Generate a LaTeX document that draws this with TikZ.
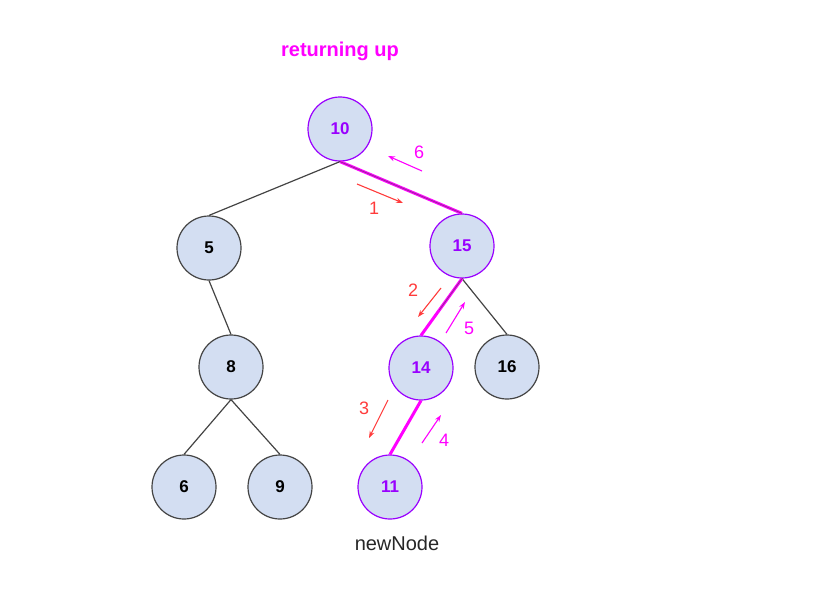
\documentclass[tikz,border=0pt]{standalone}
\usepackage{fontspec}
\setmainfont{Liberation Sans}
\usetikzlibrary{arrows.meta,calc}
\definecolor{nodefill}{HTML}{D3DEF2}
\definecolor{purp}{HTML}{9900FF}
\definecolor{mag}{HTML}{FF00FF}
\definecolor{redc}{HTML}{FF3B3B}
\definecolor{edgegray}{HTML}{444444}
\tikzset{
  tnode/.style={circle, draw=edgegray, line width=1.2pt, fill=nodefill, minimum size=64pt, inner sep=0pt, font=\fontsize{17}{19}\selectfont\bfseries, text=black},
  pnode/.style={tnode, draw=purp, text=purp},
  edge/.style={draw=edgegray, line width=1.2pt},
  medge/.style={draw=mag, line width=3pt},
  core/.style={draw=black!70, line width=0.8pt, opacity=0.6},
  redarr/.style={draw=redc, line width=1.1pt, -{Stealth[length=7pt,width=5pt]}},
  magarr/.style={draw=mag, line width=1.1pt, -{Stealth[length=7pt,width=5pt]}},
  rlab/.style={text=redc, font=\fontsize{18}{20}\selectfont},
  mlab/.style={text=mag, font=\fontsize{18}{20}\selectfont},
}
\begin{document}
\begin{tikzpicture}[x=1pt,y=-1pt]
\useasboundingbox (0,0) rectangle (829,599);
% nodes
\node[pnode] (n10) at (340,129) {10};
\node[tnode] (n5) at (209,248) {5};
\node[pnode] (n15) at (462,246) {15};
\node[tnode] (n8) at (231,367) {8};
\node[pnode] (n14) at (421,368) {14};
\node[tnode] (n16) at (507,367) {16};
\node[tnode] (n6) at (184,487) {6};
\node[tnode] (n9) at (280,487) {9};
\node[pnode] (n11) at (390,487) {11};
% edges
\draw[edge] (n10.south) -- (n5.north);
\draw[edge] (n5.south) -- (n8.north);
\draw[edge] (n8.south) -- (n6.north);
\draw[edge] (n8.south) -- (n9.north);
\draw[edge] (n15.south) -- (n16.north);
\draw[medge] (n10.south) -- (n15.north);
\draw[core] (n10.south) -- (n15.north);
\draw[medge] (n15.south) -- (n14.north);
\draw[core] (n15.south) -- ($(n15.south)!0.55!(n14.north)$);
\draw[medge] (n14.south) -- (n11.north);
% step arrows
\coordinate (a1s) at (357,184); \coordinate (a1e) at (403,203);
\draw[redarr] (a1s) -- (a1e);
\node[rlab] (l1) at (374,208) {1};
\coordinate (a6s) at (422,171); \coordinate (a6e) at (388,156);
\draw[magarr] (a6s) -- (a6e);
\node[mlab] (l6) at (419,152) {6};
\coordinate (a2s) at (441,288); \coordinate (a2e) at (418,317);
\draw[redarr] (a2s) -- (a2e);
\node[rlab] (l2) at (413,290) {2};
\coordinate (a5s) at (446,333); \coordinate (a5e) at (465,302);
\draw[magarr] (a5s) -- (a5e);
\node[mlab] (l5) at (469,328) {5};
\coordinate (a3s) at (388,400); \coordinate (a3e) at (369,438);
\draw[redarr] (a3s) -- (a3e);
\node[rlab] (l3) at (364,408) {3};
\coordinate (a4s) at (422,443); \coordinate (a4e) at (441,415);
\draw[magarr] (a4s) -- (a4e);
\node[mlab] (l4) at (444,440) {4};
% texts
\node[text=mag, font=\fontsize{20}{23}\selectfont\bfseries] (title) at (340,51) {returning up};
\node[text=black!85, font=\fontsize{20}{23}\selectfont] (nn) at (397,543) {newNode};
\end{tikzpicture}
\end{document}
